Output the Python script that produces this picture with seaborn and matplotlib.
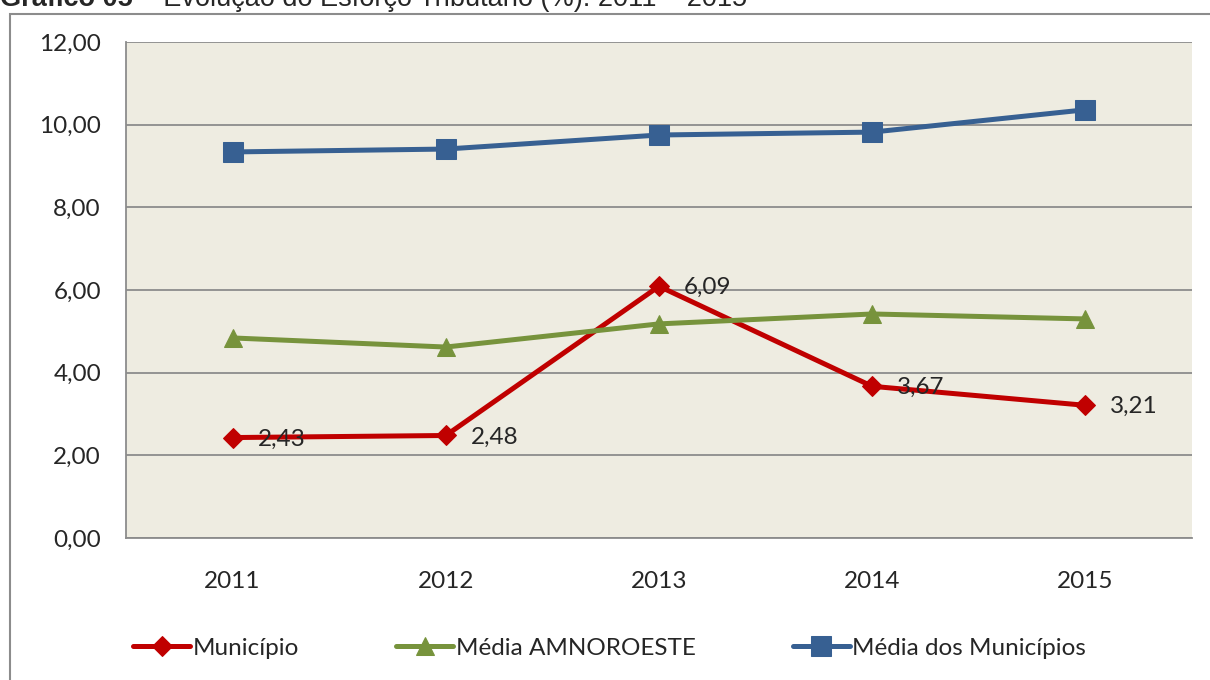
import numpy as np
import matplotlib.pyplot as plt
import pandas as pd
import seaborn as sns
from matplotlib.patches import Rectangle
from matplotlib.ticker import FixedLocator, FuncFormatter

sns.set_style('white')
plt.rcParams['font.family'] = ['Lato', 'DejaVu Sans']

anos = ['2011', '2012', '2013', '2014', '2015']
municipio = [2.43, 2.48, 6.09, 3.67, 3.21]
media_amnoroeste = [4.84, 4.62, 5.18, 5.42, 5.30]
media_municipios = [9.34, 9.41, 9.75, 9.82, 10.36]
series_nomes = ['Município', 'Média AMNOROESTE', 'Média dos Municípios']
cores = ['#C00000', '#77933C', '#376092']
marcadores = ['D', '^', 's']
tamanhos = [10.5, 13, 14]

fs = 17.5

fig = plt.figure(figsize=(12.1, 6.8), dpi=100)
ax = fig.add_axes([126 / 1210, 1 - 538 / 680, (1192 - 126) / 1210, (538 - 42) / 680])
ax.set_facecolor('#EEECE1')

valores = [municipio, media_amnoroeste, media_municipios]
for nome, vals, cor, mk, ms in zip(series_nomes, valores, cores, marcadores, tamanhos):
    df = pd.DataFrame({'ano': anos, 'valor': vals})
    sns.lineplot(data=df, x='ano', y='valor', ax=ax, color=cor, linewidth=3.6,
                 marker=mk, markersize=ms, markeredgecolor=cor, label=nome,
                 legend=False)

# rótulos de dados do município
for i, v in enumerate(municipio):
    ax.annotate(f'{v:.2f}'.replace('.', ','), (i, v), xytext=(18, -1),
                textcoords='offset points', ha='left', va='center', fontsize=fs)

ax.set_xlim(-0.5, 4.5)
ax.set_ylim(0, 12)
ax.set_yticks(np.arange(0, 13, 2))
ax.yaxis.set_major_formatter(FuncFormatter(lambda v, p: f'{v:.2f}'.replace('.', ',')))
ax.yaxis.grid(True, color='#8C8C8C', linewidth=1.3)
ax.set_axisbelow(True)
ax.xaxis.set_minor_locator(FixedLocator(np.arange(-0.5, 5, 1)))
ax.tick_params(axis='x', which='major', length=0, pad=24, labelsize=fs)
ax.tick_params(axis='x', which='minor', length=8, width=1.2, color='#8C8C8C', direction='out')
ax.tick_params(axis='y', length=9, width=1.2, color='#8C8C8C', pad=9, labelsize=fs, direction='out')
ax.set_xlabel('')
ax.set_ylabel('')
for s in ['top', 'right']:
    ax.spines[s].set_visible(False)
for s in ['left', 'bottom']:
    ax.spines[s].set_color('#8C8C8C')
    ax.spines[s].set_linewidth(1.3)

handles, labels = ax.get_legend_handles_labels()
fig.legend(handles, labels, loc='center left', bbox_to_anchor=(133 / 1210, 1 - 648 / 680),
           ncol=3, frameon=False, fontsize=17.5, handlelength=2.35, handletextpad=0.1,
           columnspacing=4.0, borderaxespad=0, borderpad=0)

# moldura externa
fig.patches.append(Rectangle((10 / 1210, -0.01), 1.1, 1 - 14 / 680 + 0.01,
                             transform=fig.transFigure, fill=False,
                             edgecolor='#8C8C8C', linewidth=1.5))

t1 = fig.text(0.0, 1 - 6 / 680, 'Gráfico 05', fontweight='bold', fontsize=19.5,
              family='Liberation Sans', va='baseline', ha='left')
ax.annotate(' – Evolução do Esforço Tributário (%): 2011 – 2015', xy=(1, 0),
            xycoords=t1, va='bottom', ha='left', fontsize=19.5, family='Liberation Sans',
            annotation_clip=False)

fig.savefig('out.png', dpi=100)
